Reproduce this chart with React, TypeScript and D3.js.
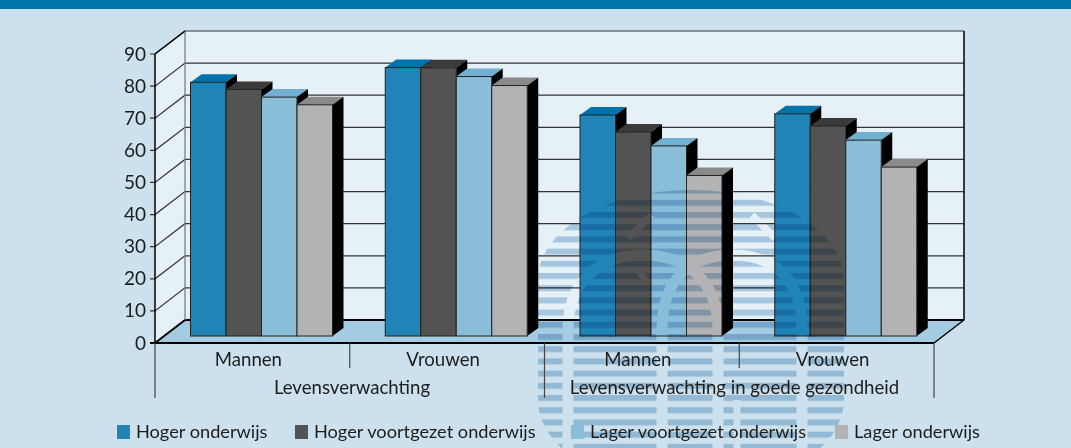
import * as d3 from "d3";

const groups = ["Mannen", "Vrouwen", "Mannen", "Vrouwen"];
const parents = ["Levensverwachting", "Levensverwachting in goede gezondheid"];
const seriesNames = ["Hoger onderwijs", "Hoger voortgezet onderwijs", "Lager voortgezet onderwijs", "Lager onderwijs"];
const hogerOnderwijs = [79, 83.6, 68.8, 69.2];
const hogerVoortgezet = [76.8, 83.5, 63.5, 65.4];
const lagerVoortgezet = [74.4, 80.8, 59.2, 61];
const lagerOnderwijs = [72, 78, 50, 52.6];
const seriesValues = [hogerOnderwijs, hogerVoortgezet, lagerVoortgezet, lagerOnderwijs];
const yTicks = d3.range(0, 100, 10);

const frontColors = ["#2184b6", "#535353", "#8abdd8", "#b3b3b5"];
const topColors = ["#0073ab", "#3a3a3a", "#71b0d0", "#8a8a8a"];
const legendX = [117, 295, 571, 835];
const parentX = [352, 734.5];

const width = 1071;
const height = 448;
const left = 155;
const right = 934;
const depthX = 30;
const depthY = 23;
const barShiftY = 7;
const barDepthX = 11;
const barDepthY = 8;
const font = "Lato, 'Open Sans', sans-serif";
const ink = "#1d1d1b";

const y = d3.scaleLinear().domain([0, 90]).range([343, 54]);
const xGroup = d3.scaleBand<number>().domain(d3.range(4)).range([left, right]);
const xBar = d3.scaleBand<number>().domain(d3.range(4)).range([35.5, 177.5]);

const poly = (pts: [number, number][]) => d3.line()(pts) + "Z";

export default function App() {
  const y0 = y(0);
  const yTop = y(90);
  return (
    <svg
      width={width}
      height={height}
      style={{ position: "absolute", left: 0, top: 0, display: "block" }}
    >
      <defs>
        <pattern id="stripes" patternUnits="userSpaceOnUse" x={0} y={4.6} width={20} height={12.2}>
          <rect x={0} y={0} width={20} height={6} fill="#b9d2e6" />
        </pattern>
        <mask id="logo" maskUnits="userSpaceOnUse" x={0} y={0} width={width} height={height}>
          <rect x={538} y={190} width={306} height={300} rx={152} ry={90} fill="#fff" />
          <g fill="none" stroke="#000" strokeWidth={11}>
            <path d="M568 448V330C568 280 600 255 643 255C686 255 718 280 718 330V448" />
            <path d="M662 448V330C662 280 690 255 732 255C775 255 802 280 802 330V448" />
            <path d="M737 400V448M628 238L652 215M637 268L647 283M752 215L775 238" strokeWidth={7} />
          </g>
        </mask>
      </defs>

      <rect width={width} height={height} fill="#cce1ed" />
      <rect width={width} height={9} fill="#0073ab" />

      {/* walls and floor */}
      <path d={poly([[left + depthX, yTop - depthY], [right + depthX, yTop - depthY], [right + depthX, y0 - depthY], [left + depthX, y0 - depthY]])} fill="#e5f0f7" />
      <path d={poly([[left, yTop], [left + depthX, yTop - depthY], [left + depthX, y0 - depthY], [left, y0]])} fill="#e5f0f7" />
      <path d={poly([[left, y0], [left + depthX, y0 - depthY], [right + depthX, y0 - depthY], [right, y0]])} fill="#a3cbe1" />

      {/* grid */}
      {yTicks.map((t) => (
        <g key={t} fill="none" stroke={t === 0 ? "#000" : "#333"} strokeWidth={t === 0 ? 2 : 1.2}>
          <path d={`M${left - 5} ${y(t)}H${left}L${left + depthX} ${y(t) - depthY}H${right + depthX}`} />
          <text x={left - 9} y={y(t) + 6.5} textAnchor="end" fontFamily={font} fontSize={19} fill={ink} stroke="none">
            {t}
          </text>
        </g>
      ))}
      <path d={`M${left + depthX} ${yTop - depthY}V${y0 - depthY}`} stroke="#777" strokeWidth={1.2} fill="none" />
      <path d={`M${right + depthX} ${yTop - depthY}V${y0 - depthY}L${right} ${y0}`} stroke="#000" strokeWidth={1.5} fill="none" />
      <path d={`M${left} ${yTop}V${y0}`} stroke="#000" strokeWidth={1.5} fill="none" />
      <path d={`M${left} ${yTop}L${left + depthX} ${yTop - depthY}`} stroke="#000" strokeWidth={1.5} fill="none" />
      <path d={`M${left} ${y0}H${right}`} stroke="#000" strokeWidth={2} fill="none" />

      {/* bars */}
      {groups.map((_, g) =>
        seriesValues.map((vals, s) => {
          const x0 = xGroup(g)! + xBar(s)!;
          const x1 = x0 + xBar.bandwidth();
          const top = y(vals[g]) - barShiftY;
          const bottom = y0 - barShiftY;
          return (
            <g key={`${g}-${s}`}>
              <path d={poly([[x0, top], [x0 + barDepthX, top - barDepthY], [x1 + barDepthX, top - barDepthY], [x1, top]])} fill={topColors[s]} />
              <path d={poly([[x1, top], [x1 + barDepthX, top - barDepthY], [x1 + barDepthX, bottom - barDepthY], [x1, bottom]])} fill="#000" />
              <rect x={x0} y={top} width={x1 - x0} height={bottom - top} fill={frontColors[s]} stroke="#222" strokeWidth={1} />
            </g>
          );
        })
      )}

      {/* watermark */}
      <rect
        width={width}
        height={height}
        fill="url(#stripes)"
        mask="url(#logo)"
        style={{ mixBlendMode: "multiply" }}
      />

      {/* category axis */}
      <g stroke="#444" strokeWidth={1.2} fill="none">
        {d3.range(5).map((i) => {
          const xx = left + i * xGroup.bandwidth();
          return <path key={i} d={`M${xx} ${y0}V${i % 2 === 0 ? 398 : 368}`} />;
        })}
      </g>
      <g fontFamily={font} fontSize={18.6} fill={ink} textAnchor="middle">
        {groups.map((g, i) => (
          <text key={i} x={xGroup(i)! + xGroup.bandwidth() / 2 - 4} y={366}>
            {g}
          </text>
        ))}
        {parents.map((p, i) => (
          <text key={p} x={parentX[i]} y={394}>
            {p}
          </text>
        ))}
      </g>

      {/* legend */}
      {seriesNames.map((n, i) => (
        <g key={n}>
          <rect x={legendX[i]} y={425} width={13} height={14} fill={frontColors[i]} />
          <text x={legendX[i] + 19} y={438} fontFamily={font} fontSize={18.2} fill={ink}>
            {n}
          </text>
        </g>
      ))}
    </svg>
  );
}
